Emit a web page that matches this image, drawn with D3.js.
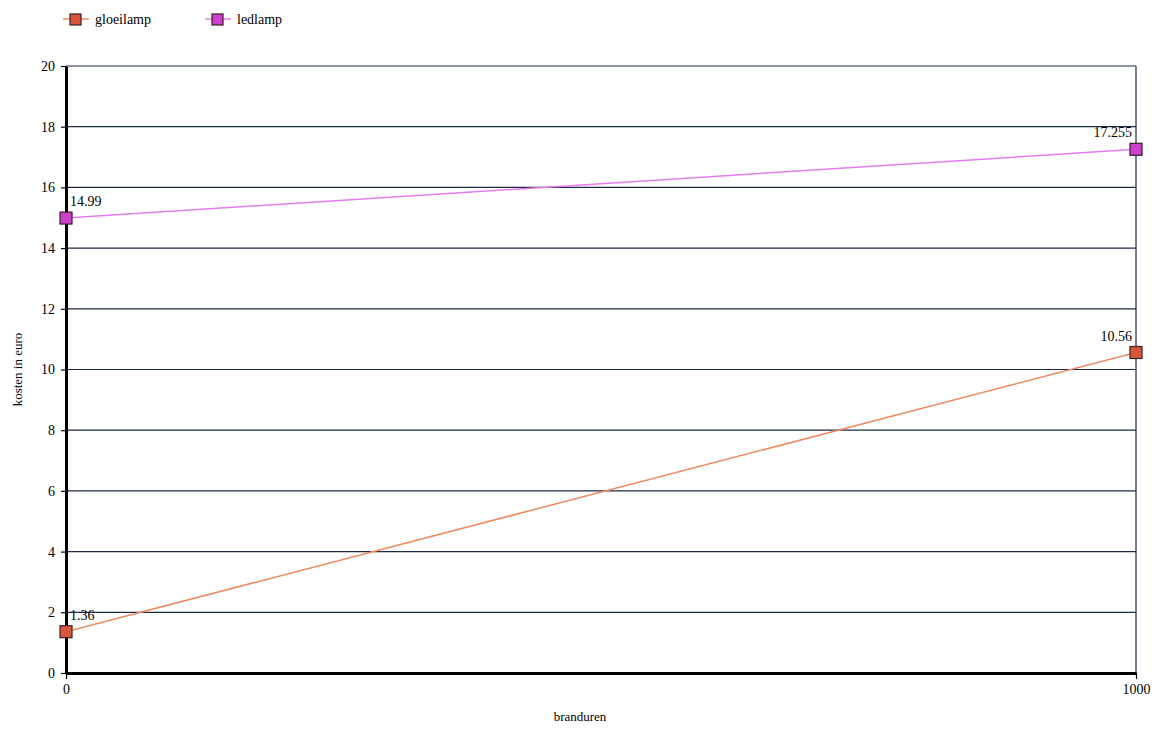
<!DOCTYPE html>
<html lang="en">
<head>
  <meta charset="UTF-8">
  <title>gloeilamp vs ledlamp</title>
  <script src="https://d3js.org/d3.v7.min.js"></script>
  <style>
    body { margin: 0; background: #fff; }
    svg text { font-family: "Liberation Serif", "DejaVu Serif", serif; font-size: 13px; fill: #000; }
  </style>
</head>
<body>
  <svg id="chart" width="1159" height="729"></svg>
  <script>
    // data
    const hours = [0, 1000];
    const gloeilamp = [1.36, 10.56];
    const ledlamp = [14.99, 17.255];
    const yTicks = [0, 2, 4, 6, 8, 10, 12, 14, 16, 18, 20];
    const xTicks = [0, 1000];

    const series = [
      { name: "gloeilamp", values: gloeilamp, line: "#f08a60", fill: "#d9563a" },
      { name: "ledlamp",   values: ledlamp,   line: "#e47cf0", fill: "#cf3fd0" }
    ];

    const svg = d3.select("#chart");
    const plotL = 66, plotR = 1136, plotT = 66, plotB = 673;

    const x = d3.scaleLinear().domain([0, 1000]).range([plotL, plotR]);
    const y = d3.scaleLinear().domain([0, 20]).range([plotB, plotT]);

    // grid lines
    svg.append("g")
      .selectAll("line")
      .data(yTicks.filter(d => d > 0))
      .join("line")
        .attr("x1", plotL).attr("x2", plotR)
        .attr("y1", d => y(d)).attr("y2", d => y(d))
        .attr("stroke", "#1c2a44")
        .attr("stroke-width", 1.2);

    // right border
    svg.append("line")
      .attr("x1", plotR).attr("x2", plotR)
      .attr("y1", plotT).attr("y2", plotB)
      .attr("stroke", "#1c2a44").attr("stroke-width", 1.2);

    // y axis
    const yAxis = svg.append("g")
      .attr("transform", `translate(${plotL},0)`)
      .call(d3.axisLeft(y).tickValues(yTicks).tickSize(5).tickSizeOuter(0).tickFormat(d3.format("d")));
    yAxis.attr("font-family", null);
    yAxis.select(".domain").attr("stroke", "#000").attr("stroke-width", 3);
    yAxis.selectAll(".tick line").attr("stroke", "#000").attr("stroke-width", 1.2);
    yAxis.selectAll(".tick text").attr("x", -11).style("font-size", "14px");

    // x axis
    const xAxis = svg.append("g")
      .attr("transform", `translate(0,${plotB})`)
      .call(d3.axisBottom(x).tickValues(xTicks).tickSize(6).tickSizeOuter(0).tickFormat(d3.format("d")));
    xAxis.attr("font-family", null);
    xAxis.select(".domain").attr("stroke", "#000").attr("stroke-width", 3);
    xAxis.selectAll(".tick line").attr("stroke", "#000").attr("stroke-width", 1.2);
    xAxis.selectAll(".tick text").attr("y", 11).style("font-size", "14px");

    // axis titles
    svg.append("text")
      .attr("x", 580).attr("y", 721)
      .attr("text-anchor", "middle")
      .text("branduren");
    svg.append("text")
      .attr("transform", `translate(22,${(plotT + plotB) / 2}) rotate(-90)`)
      .attr("text-anchor", "middle")
      .text("kosten in euro");

    // lines, markers, labels
    const lineGen = d3.line().x((d, i) => x(hours[i])).y(d => y(d));

    series.forEach(s => {
      svg.append("path")
        .datum(s.values)
        .attr("d", lineGen)
        .attr("fill", "none")
        .attr("stroke", s.line)
        .attr("stroke-width", 1.5);

      svg.append("g")
        .selectAll("rect")
        .data(s.values)
        .join("rect")
          .attr("x", (d, i) => x(hours[i]) - 6)
          .attr("y", d => y(d) - 6)
          .attr("width", 12).attr("height", 12)
          .attr("fill", s.fill)
          .attr("stroke", "#3a2222")
          .attr("stroke-width", 1.2);

      svg.append("g")
        .selectAll("text")
        .data(s.values)
        .join("text")
          .attr("x", (d, i) => i === 0 ? x(hours[i]) + 4 : x(hours[i]) - 4)
          .attr("y", d => y(d) - 12)
          .attr("text-anchor", (d, i) => i === 0 ? "start" : "end")
          .style("font-size", "14px")
          .text(d => d);
    });

    // legend
    const legend = svg.append("g").attr("transform", "translate(63,19)");
    const legItems = legend.selectAll("g")
      .data(series)
      .join("g")
        .attr("transform", (d, i) => `translate(${i * 142},0)`);
    legItems.append("line")
      .attr("x1", 0).attr("x2", 26)
      .attr("stroke", d => d.line).attr("stroke-width", 1.5);
    legItems.append("rect")
      .attr("x", 7).attr("y", -5)
      .attr("width", 11).attr("height", 11)
      .attr("fill", d => d.fill)
      .attr("stroke", "#3a2222").attr("stroke-width", 1.2);
    legItems.append("text")
      .attr("x", 32).attr("y", 5)
      .style("font-size", "14px")
      .text(d => d.name);
  </script>
</body>
</html>
